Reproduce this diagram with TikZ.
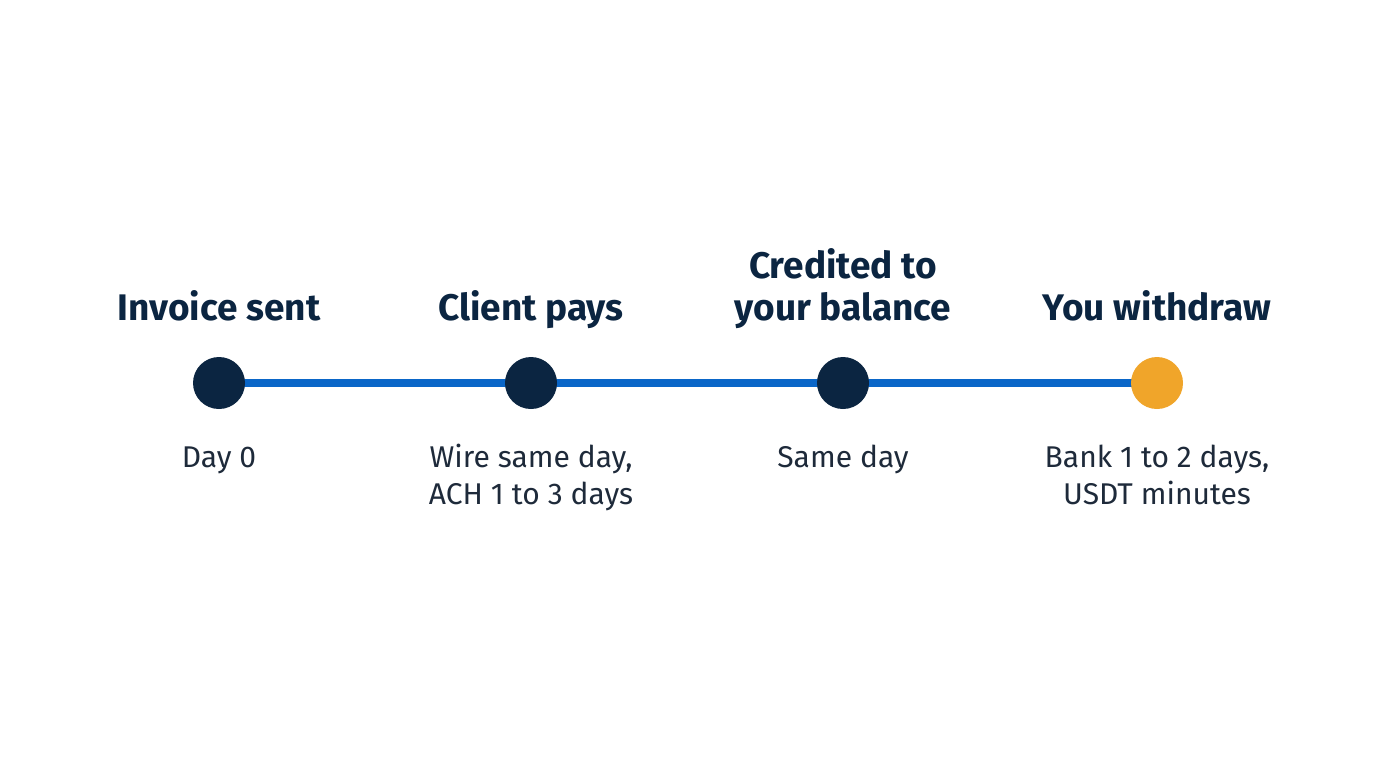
\documentclass[tikz,border=0pt]{standalone}
\usepackage{fontspec}
\setmainfont{Fira Sans}
\usepackage{tikz}
\usetikzlibrary{positioning}
\definecolor{navy}{HTML}{0B2541}
\definecolor{lineblue}{HTML}{0A66C8}
\definecolor{amber}{HTML}{F0A52A}
\definecolor{txtgray}{HTML}{1E2A3A}
\begin{document}
\begin{tikzpicture}[x=0.5pt,y=-0.5pt,
  stop/.style={circle,fill=navy,minimum size=26pt,inner sep=0pt},
  title/.style={font=\fontsize{18.5pt}{21pt}\selectfont\bfseries,text=navy,align=center,anchor=base},
  note/.style={font=\fontsize{15pt}{18.5pt}\selectfont,text=txtgray,align=center,anchor=base}]
\useasboundingbox (0,0) rectangle (1376,768);
\coordinate (c1) at (219,383);
\coordinate (c2) at (1157,383);
\draw[lineblue,line width=4pt] (c1) -- (c2);
\node[stop] (s1) at (c1) {};
\node[stop] (s2) at (531,383) {};
\node[stop] (s3) at (843,383) {};
\node[stop,fill=amber] (s4) at (c2) {};
% headings
\node[title] (t1) at (219,320) {Invoice sent};
\node[title] (t2) at (531,320) {Client pays};
\node[title] (t3a) at (843,278) {Credited to};
\node[title] (t3b) at (843,320) {your balance};
\node[title] (t4) at (1157,320) {You withdraw};
% notes
\node[note] (n1) at (219,467) {Day 0};
\node[note] (n2a) at (531,467) {Wire same day,};
\node[note] (n2b) at (531,504) {ACH 1 to 3 days};
\node[note] (n3) at (843,467) {Same day};
\node[note] (n4a) at (1157,467) {Bank 1 to 2 days,};
\node[note] (n4b) at (1157,504) {USDT minutes};
\end{tikzpicture}
\end{document}
